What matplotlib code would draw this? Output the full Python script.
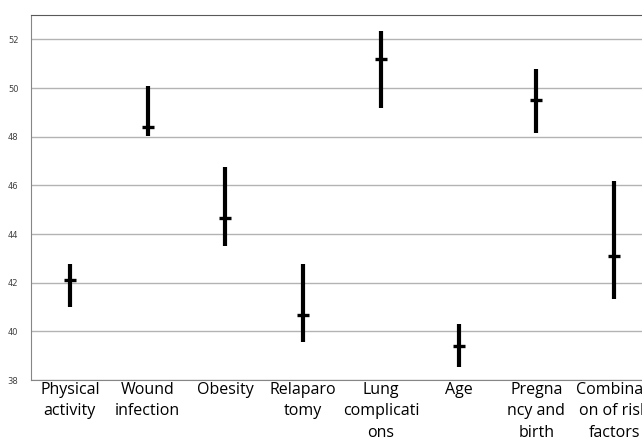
import matplotlib.pyplot as plt

categories = ['Physical\nactivity', 'Wound\ninfection', 'Obesity', 'Relaparo\ntomy',
              'Lung\ncomplicati\nons', 'Age', 'Pregna\nncy and\nbirth', 'Combinati\non of risk\nfactors']
high = [42.76, 50.07, 46.74, 42.76, 52.33, 40.30, 50.77, 46.17]
low = [41.00, 48.02, 43.50, 39.56, 49.17, 38.53, 48.14, 41.33]
mean = [42.10, 48.39, 44.65, 40.67, 51.18, 39.40, 49.50, 43.09]

fig = plt.figure(figsize=(6.42, 4.40), dpi=100)
ax = fig.add_axes([31 / 642, 60 / 440, 622 / 642, 365 / 440])

x = list(range(len(categories)))
ax.vlines(x, low, high, colors='black', linewidth=3.0, zorder=3)
ax.plot(x, mean, linestyle='none', marker='_', markersize=9, markeredgewidth=2.4,
        color='black', zorder=4)

ax.set_xlim(-0.5, 7.5)
ax.set_ylim(38, 53)
ax.set_yticks(range(38, 53, 2))
ax.yaxis.grid(True, color='#b3b3b3', linewidth=1)
ax.set_axisbelow(True)
ax.tick_params(axis='y', length=0, labelsize=6, labelcolor='#404040', pad=9)
ax.tick_params(axis='x', length=0)
ax.set_xticks(x)
ax.set_xticklabels([])
for xi, lab in zip(x, categories):
    ax.text(xi, 37.93, lab, ha='center', va='top', fontsize=11.5, family='Open Sans',
            linespacing=1.45)

ax.spines['top'].set_color('#595959')
ax.spines['left'].set_color('#868686')
ax.spines['bottom'].set_color('#868686')
ax.spines['right'].set_visible(False)

fig.savefig('out.png', dpi=100)
